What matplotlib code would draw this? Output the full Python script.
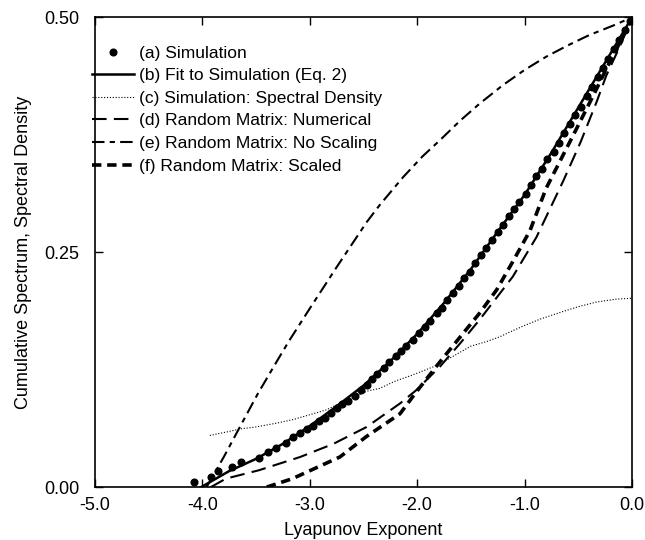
import matplotlib
matplotlib.use("Agg")
import matplotlib.pyplot as plt
from matplotlib.legend_handler import HandlerLine2D
import numpy as np

plt.rcParams['font.family'] = ['Liberation Sans', 'DejaVu Sans']

# (a) simulation points
sim_x = [-4.08, -3.92, -3.85, -3.72, -3.64, -3.47, -3.39, -3.31, -3.22, -3.16,
         -3.09, -3.03, -2.97, -2.91, -2.86, -2.80, -2.75, -2.70, -2.64, -2.58,
         -2.52, -2.47, -2.42, -2.37, -2.31, -2.26, -2.20, -2.15, -2.10, -2.04,
         -1.98, -1.93, -1.88, -1.82, -1.77, -1.72, -1.67, -1.61, -1.56, -1.51,
         -1.46, -1.41, -1.36, -1.30, -1.25, -1.20, -1.15, -1.10, -1.05, -0.99,
         -0.94, -0.89, -0.84, -0.79, -0.73, -0.68, -0.63, -0.58, -0.53, -0.48,
         -0.42, -0.37, -0.32, -0.27, -0.22, -0.17, -0.12, -0.07, -0.02]
sim_y = [0.005, 0.011, 0.017, 0.021, 0.027, 0.031, 0.037, 0.042, 0.047, 0.053,
         0.058, 0.062, 0.065, 0.070, 0.074, 0.079, 0.084, 0.088, 0.092, 0.097,
         0.103, 0.109, 0.115, 0.120, 0.127, 0.133, 0.139, 0.145, 0.150, 0.157,
         0.164, 0.170, 0.177, 0.185, 0.191, 0.199, 0.207, 0.214, 0.222, 0.229,
         0.238, 0.247, 0.254, 0.263, 0.272, 0.279, 0.288, 0.296, 0.303, 0.312,
         0.321, 0.331, 0.339, 0.349, 0.357, 0.366, 0.377, 0.386, 0.396, 0.405,
         0.416, 0.426, 0.436, 0.446, 0.456, 0.466, 0.476, 0.486, 0.496]

# (b) fit to simulation
fit_x = [-4.01, -3.75, -3.5, -3.25, -3.0, -2.75, -2.5, -2.25, -2.0, -1.75,
         -1.5, -1.25, -1.0, -0.75, -0.5, -0.25, 0.0]
fit_y = [0.0, 0.017, 0.030, 0.046, 0.065, 0.086, 0.108, 0.134, 0.163, 0.196,
         0.232, 0.272, 0.311, 0.356, 0.404, 0.452, 0.5]

# (c) spectral density
dens_x = [-3.93, -3.80, -3.64, -3.50, -3.31, -3.15, -3.0, -2.85, -2.72, -2.60,
          -2.47, -2.35, -2.2, -2.05, -1.85, -1.7, -1.5, -1.35, -1.23, -1.1,
          -1.0, -0.85, -0.64, -0.5, -0.33, -0.15, 0.0]
dens_y = [0.055, 0.058, 0.062, 0.064, 0.068, 0.072, 0.077, 0.082, 0.089, 0.095,
          0.102, 0.105, 0.113, 0.119, 0.128, 0.137, 0.150, 0.155, 0.160, 0.167,
          0.172, 0.179, 0.187, 0.192, 0.197, 0.200, 0.201]

# (d) random matrix: numerical
num_x = [-3.92, -3.78, -3.47, -3.09, -2.78, -2.47, -2.16, -2.01, -1.79, -1.60,
         -1.42, -1.11, -0.89, -0.64, -0.48, -0.33, -0.24, -0.11, 0.0]
num_y = [0.0, 0.009, 0.018, 0.032, 0.046, 0.064, 0.089, 0.103, 0.128, 0.153,
         0.178, 0.224, 0.266, 0.326, 0.367, 0.410, 0.438, 0.470, 0.5]

# (e) random matrix: no scaling
nos_x = [-3.96, -3.80, -3.65, -3.48, -3.30, -3.19, -3.0, -2.75, -2.47, -2.35,
         -2.13, -1.95, -1.79, -1.6, -1.42, -1.2, -1.0, -0.8, -0.6, -0.4,
         -0.18, 0.0]
nos_y = [0.0, 0.032, 0.064, 0.100, 0.135, 0.156, 0.190, 0.234, 0.282, 0.300,
         0.330, 0.352, 0.369, 0.390, 0.408, 0.428, 0.444, 0.458, 0.470, 0.481,
         0.491, 0.5]

# (f) random matrix: scaled
scl_x = [-3.40, -3.16, -2.72, -2.47, -2.16, -2.01, -1.79, -1.57, -1.42, -1.26,
         -1.11, -0.95, -0.80, -0.55, -0.36, -0.24, -0.11, 0.0]
scl_y = [0.0, 0.009, 0.032, 0.054, 0.078, 0.101, 0.133, 0.164, 0.185, 0.210,
         0.240, 0.273, 0.318, 0.374, 0.417, 0.445, 0.474, 0.5]

labels = ["(a) Simulation", "(b) Fit to Simulation (Eq. 2)",
          "(c) Simulation: Spectral Density", "(d) Random Matrix: Numerical",
          "(e) Random Matrix: No Scaling", "(f) Random Matrix: Scaled"]


class RightMarker(HandlerLine2D):
    # put the single marker at the right end of the legend handle
    def get_xdata(self, legend, xdescent, ydescent, width, height, fontsize):
        xd = np.array([-xdescent, -xdescent + width])
        return xd, np.array([-xdescent + width - 2])


fig = plt.figure(figsize=(6.45, 5.4), dpi=100)
ax = fig.add_axes([0.147, 0.098, 0.833, 0.870])

h_a, = ax.plot(sim_x, sim_y, 'o', color='black', ms=4.8, label=labels[0])
h_b, = ax.plot(fit_x, fit_y, '-', color='black', lw=1.8, label=labels[1])
h_c, = ax.plot(dens_x, dens_y, color='black', lw=0.8, dashes=(1, 1.6), label=labels[2])
h_d, = ax.plot(num_x, num_y, color='black', lw=1.5, dashes=(7, 3.5), label=labels[3])
h_e, = ax.plot(nos_x, nos_y, color='black', lw=1.5, dashes=(6, 2.5, 2.5, 2.5), label=labels[4])
h_f, = ax.plot(scl_x, scl_y, color='black', lw=2.6, dashes=(2.6, 1.6), label=labels[5])

ax.set_xlim(-5, 0)
ax.set_ylim(0, 0.5)
ax.set_xticks([-5, -4, -3, -2, -1, 0])
ax.set_xticklabels(["-5.0", "-4.0", "-3.0", "-2.0", "-1.0", "0.0"])
ax.set_yticks([0, 0.25, 0.5])
ax.set_yticklabels(["0.00", "0.25", "0.50"])
ax.tick_params(direction='in', length=6, width=1, top=True, right=True,
               labelsize=13)
ax.tick_params(axis='x', pad=7)
ax.tick_params(axis='y', pad=11)
for s in ax.spines.values():
    s.set_linewidth(1.2)

ax.set_xlabel("Lyapunov Exponent", fontsize=13, labelpad=6)
ax.set_ylabel("Cumulative Spectrum, Spectral Density", fontsize=13, labelpad=9)

ax.legend(handles=[h_a, h_b, h_c, h_d, h_e, h_f], loc='upper left',
          bbox_to_anchor=(-0.005, 0.94), frameon=False, fontsize=12.5,
          handlelength=2.4, handletextpad=0.3, borderpad=0, borderaxespad=0,
          labelspacing=0.43, handler_map={h_a: RightMarker(numpoints=1)})

fig.savefig("out.png", dpi=100)
